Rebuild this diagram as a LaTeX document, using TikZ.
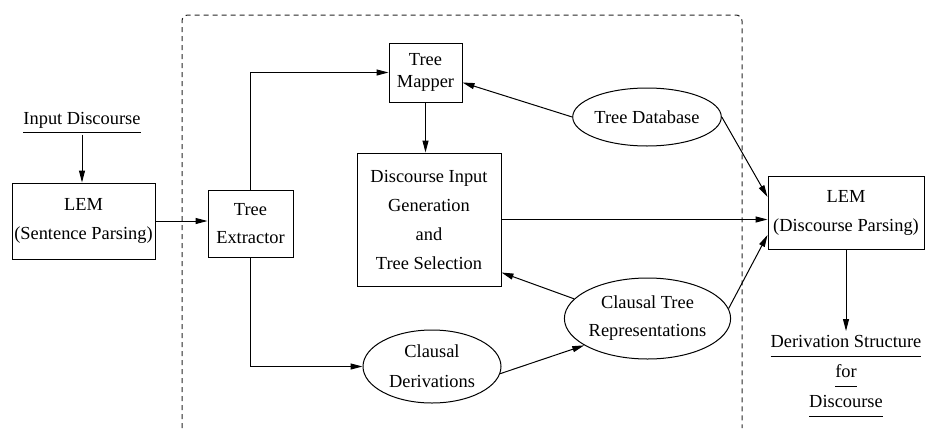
\documentclass[tikz,border=0pt]{standalone}
\usepackage{fontspec}
\setmainfont{Liberation Serif}
\usetikzlibrary{shapes.geometric,arrows.meta}
\newcommand{\ulabel}[1]{\underline{\rule[-3pt]{0pt}{11pt}#1}}
\begin{document}
\begin{tikzpicture}[x=0.5pt, y=-0.5pt, line width=0.5pt,
    box/.style={draw, inner sep=0pt, align=center, font=\fontsize{9.2}{14.5}\selectfont},
    oval/.style={draw, ellipse, inner sep=0pt, align=center, font=\fontsize{9.2}{14.5}\selectfont},
    plain/.style={inner sep=0pt, align=center, font=\fontsize{9.2}{15}\selectfont},
    flow/.style={-{Triangle[length=6pt,width=3pt]}},
    frame/.style={draw=black!85, dash pattern=on 2.5pt off 2pt, rounded corners=3pt}]
    \useasboundingbox (0,0) rectangle (925,428);

    % Dashed frame, open at the bottom
    \draw[frame] (182,428) |- (742,15) -- (742,428);

    % Boxes
    \node[box, minimum width=71.5pt, minimum height=38pt] (lemS) at (83.5,221) {LEM\\(Sentence Parsing)};
    \node[box, minimum width=42.5pt, minimum height=33.5pt, font=\fontsize{9.2}{14}\selectfont] (extr) at (250.5,223.5) {Tree\\Extractor};
    \node[box, minimum width=36.5pt, minimum height=29.5pt, font=\fontsize{9.2}{11}\selectfont] (mapper) at (425.5,72.5) {Tree\\Mapper};
    \node[box, minimum width=72pt, minimum height=66.5pt] (dig) at (429,219.5) {Discourse Input\\Generation\\and\\Tree Selection};
    \node[box, minimum width=78pt, minimum height=36.5pt] (lemD) at (846,212.5) {LEM\\(Discourse Parsing)};

    % Ovals
    \node[oval, minimum width=68.5pt, minimum height=29pt] (treedb) at (647,117) {Tree Database};
    \node[oval, minimum width=75.5pt, minimum height=40.5pt, font=\fontsize{9.2}{14}\selectfont] (ctr) at (647.5,318.5) {Clausal Tree\\Representations};
    \node[oval, minimum width=69pt, minimum height=36.5pt, font=\fontsize{9.2}{15}\selectfont] (cder) at (432,366.5) {Clausal\\Derivations};

    % Input and output texts
    \node[plain] (input) at (82,121) {\ulabel{Input Discourse}};
    \node[plain, anchor=north] (deriv) at (846,331) {\ulabel{Derivation Structure}\\\ulabel{for}\\\ulabel{Discourse}};

    % Connectors
    \draw[flow] (input.south) -- (input.south |- lemS.north);
    \draw[flow] (lemS.east) -- (lemS.east -| extr.west);
    \draw[flow] (extr.north) |- (mapper.west);
    \draw[flow] (extr.south) |- (cder.west);
    \draw[flow] (mapper.south) -- (mapper.south |- dig.north);
    \draw[flow] (treedb.west) -- ([yshift=-5pt]mapper.east);
    \draw[flow] (treedb.east) -- ([yshift=7.75pt]lemD.west);
    \draw[flow] (dig.east) -- (dig.east -| lemD.west);
    \draw[flow] (ctr.165) -- ([yshift=7pt]dig.south east);
    \draw[flow] (ctr.7) -- ([yshift=-11.25pt]lemD.west);
    \draw[flow] (cder.-6) -- (ctr.203);
    \draw[flow] (lemD.south) -- (deriv.north);
\end{tikzpicture}
\end{document}
